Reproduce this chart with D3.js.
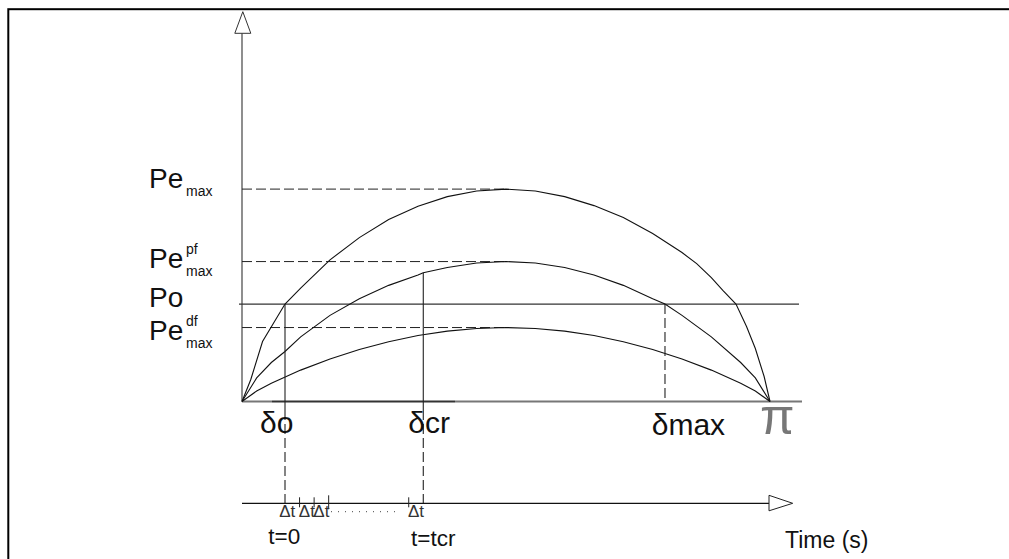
<!DOCTYPE html>
<html>
<head>
<meta charset="utf-8">
<script src="https://cdn.jsdelivr.net/npm/d3@7/dist/d3.min.js"></script>
<style>
  html, body { margin: 0; padding: 0; background: #fff; }
  svg { display: block; }
  text { font-family: "Liberation Sans", Arial, sans-serif; fill: #111; }
</style>
</head>
<body>
<svg id="chart" width="1009" height="559"></svg>
<script>
// Power-angle diagram: electrical power vs rotor angle for the
// pre-fault, during-fault and post-fault networks, with the time axis below.

// rotor angle samples (degrees)
const deltaMaxCurve = [0, 3, 7, 14.66, 20, 30, 40, 50, 60, 70, 80, 90, 100, 110, 120, 130, 140, 150, 155, 160, 164, 168.4, 172, 175, 178, 180];
const peMaxValues   = [0, 0.22, 0.60, 0.975, 1.135, 1.417, 1.64, 1.82, 1.953, 2.05, 2.106, 2.125, 2.106, 2.05, 1.96, 1.84, 1.68, 1.49, 1.38, 1.24, 1.11, 0.975, 0.75, 0.53, 0.25, 0];

const deltaPf   = [0, 5, 10, 14.66, 20, 30, 40, 50, 60, 61.8, 70, 80, 90, 100, 110, 120, 130, 140, 144.2, 150, 160, 170, 175, 180];
const pePfValues = [0, 0.236, 0.39, 0.50, 0.647, 0.862, 1.028, 1.162, 1.266, 1.288, 1.34, 1.385, 1.40, 1.385, 1.34, 1.266, 1.162, 1.028, 0.975, 0.862, 0.647, 0.39, 0.236, 0];

const deltaDf   = [0, 5, 10, 20, 30, 40, 50, 60, 70, 80, 90, 100, 110, 120, 130, 140, 150, 160, 170, 175, 180];
const peDfValues = [0, 0.105, 0.182, 0.314, 0.425, 0.52, 0.598, 0.66, 0.704, 0.731, 0.74, 0.731, 0.704, 0.66, 0.598, 0.52, 0.425, 0.314, 0.182, 0.105, 0];

// characteristic levels (power) and angles (degrees)
const peMaxLevel = 2.125, pePfLevel = 1.40, peDfLevel = 0.74, poLevel = 0.975;
const deltaO = 14.66, deltaCr = 61.8, deltaMaxAngle = 144.2, deltaPeak = 90;

// time axis: steps of Δt, t=0 at δo and t=tcr at δcr
const tCr = 9.5;
const timeTicks = [1, 2, 3, 8.5];
const tallTick = 3;
const deltaTLabels = [0.15, 1.5, 2.5, 9.0];

const svg = d3.select("#chart");

const x = d3.scaleLinear().domain([0, 180]).range([242, 770]);
const y = d3.scaleLinear().domain([0, 3.9]).range([401.5, 11.7]);
const tx = d3.scaleLinear().domain([0, tCr]).range([x(deltaO), x(deltaCr)]);
const timeY = 503.3;

// frame
svg.append("rect").attr("x", 8.3).attr("y", 9.2).attr("width", 1100).attr("height", 600)
  .attr("fill", "none").attr("stroke", "#000").attr("stroke-width", 2);

// power axis with open arrow
svg.append("line").attr("x1", x(0)).attr("x2", x(0)).attr("y1", y(0)).attr("y2", 33.3)
  .attr("stroke", "#444").attr("stroke-width", 1.2);
svg.append("path")
  .attr("d", `M${x(0) + 0.8},${y(3.9)} L${x(0) - 7.2},33.3 L${x(0) + 8.8},33.3 Z`)
  .attr("fill", "#fff").attr("stroke", "#333").attr("stroke-width", 1);

// angle axis
svg.append("line").attr("x1", x(0)).attr("x2", 802).attr("y1", y(0)).attr("y2", y(0))
  .attr("stroke", "#777").attr("stroke-width", 2);
svg.append("line").attr("x1", 272).attr("x2", 455).attr("y1", y(0)).attr("y2", y(0))
  .attr("stroke", "#333").attr("stroke-width", 1.6);

// mechanical power line
svg.append("line").attr("x1", 239).attr("x2", 799).attr("y1", y(poLevel)).attr("y2", y(poLevel))
  .attr("stroke", "#333").attr("stroke-width", 1.3);

// dashed level guides to each curve's peak
[peMaxLevel, pePfLevel, peDfLevel].forEach(v => {
  svg.append("line").attr("x1", x(0)).attr("x2", x(deltaPeak)).attr("y1", y(v)).attr("y2", y(v))
    .attr("stroke", "#222").attr("stroke-width", 1).attr("stroke-dasharray", "10,4");
});

// power-angle curves
const line = d3.line().x(d => x(d[0])).y(d => y(d[1])).curve(d3.curveLinear);
[[deltaMaxCurve, peMaxValues], [deltaPf, pePfValues], [deltaDf, peDfValues]].forEach(([ds, ps]) => {
  svg.append("path").attr("d", line(d3.zip(ds, ps)))
    .attr("fill", "none").attr("stroke", "#111").attr("stroke-width", 1.1);
});

// δo : solid from Po down to the angle axis, dashed to the time axis
svg.append("line").attr("x1", x(deltaO)).attr("x2", x(deltaO)).attr("y1", y(poLevel)).attr("y2", 410)
  .attr("stroke", "#222").attr("stroke-width", 1.1);
svg.append("line").attr("x1", x(deltaO)).attr("x2", x(deltaO)).attr("y1", 410).attr("y2", timeY)
  .attr("stroke", "#222").attr("stroke-width", 1.1).attr("stroke-dasharray", "10,4");
// δcr
svg.append("line").attr("x1", x(deltaCr)).attr("x2", x(deltaCr)).attr("y1", y(1.288)).attr("y2", 410)
  .attr("stroke", "#222").attr("stroke-width", 1.1);
svg.append("line").attr("x1", x(deltaCr)).attr("x2", x(deltaCr)).attr("y1", 410).attr("y2", timeY)
  .attr("stroke", "#222").attr("stroke-width", 1.1).attr("stroke-dasharray", "10,4");
// δmax
svg.append("line").attr("x1", x(deltaMaxAngle)).attr("x2", x(deltaMaxAngle)).attr("y1", y(poLevel)).attr("y2", y(0))
  .attr("stroke", "#222").attr("stroke-width", 1.1).attr("stroke-dasharray", "10,4");

// power labels
function peLabel(baseY, sup, txt) {
  const g = svg.append("g");
  g.append("text").attr("x", 149).attr("y", baseY).attr("font-size", 28).text(txt);
  if (txt === "Pe") {
    g.append("text").attr("x", 186).attr("y", baseY + 8).attr("font-size", 14).text("max");
    if (sup) g.append("text").attr("x", 186).attr("y", baseY - 14).attr("font-size", 14).text(sup);
  }
}
peLabel(188.3, null, "Pe");
peLabel(268.3, "pf", "Pe");
peLabel(306.7, null, "Po");
peLabel(340, "df", "Pe");

// angle labels
svg.append("text").attr("x", 260).attr("y", 433.3).attr("font-size", 30).text("δo");
svg.append("text").attr("x", 408.3).attr("y", 433.3).attr("font-size", 30).text("δcr");
svg.append("text").attr("x", 651.7).attr("y", 435).attr("font-size", 30).text("δmax");
svg.append("text").attr("x", 760).attr("y", 434).attr("font-size", 50).style("fill", "#777").text("π");

// time axis with open arrow
svg.append("line").attr("x1", x(0)).attr("x2", 769).attr("y1", timeY).attr("y2", timeY)
  .attr("stroke", "#111").attr("stroke-width", 1.2);
svg.append("path").attr("d", `M769,495.3 L792.7,${timeY} L769,510.8 Z`)
  .attr("fill", "#fff").attr("stroke", "#222").attr("stroke-width", 1);

svg.selectAll(".tick").data(timeTicks).enter().append("line")
  .attr("x1", d => tx(d)).attr("x2", d => tx(d))
  .attr("y1", d => d === tallTick ? timeY - 8 : timeY - 6)
  .attr("y2", d => d === tallTick ? timeY + 6 : timeY + 4)
  .attr("stroke", "#222").attr("stroke-width", 1);

svg.selectAll(".dt").data(deltaTLabels).enter().append("text")
  .attr("x", d => tx(d)).attr("y", 517).attr("text-anchor", "middle")
  .attr("font-size", 17).style("fill", "#333").text("Δt");

svg.append("line").attr("x1", 331).attr("x2", 398).attr("y1", 511.7).attr("y2", 511.7)
  .attr("stroke", "#444").attr("stroke-width", 1).attr("stroke-dasharray", "1,6");

svg.append("text").attr("x", 268.3).attr("y", 544).attr("font-size", 22.5).text("t=0");
svg.append("text").attr("x", 411).attr("y", 545.5).attr("font-size", 22.5).text("t=tcr");
svg.append("text").attr("x", 785).attr("y", 547.5).attr("font-size", 23).text("Time (s)");
</script>
</body>
</html>
